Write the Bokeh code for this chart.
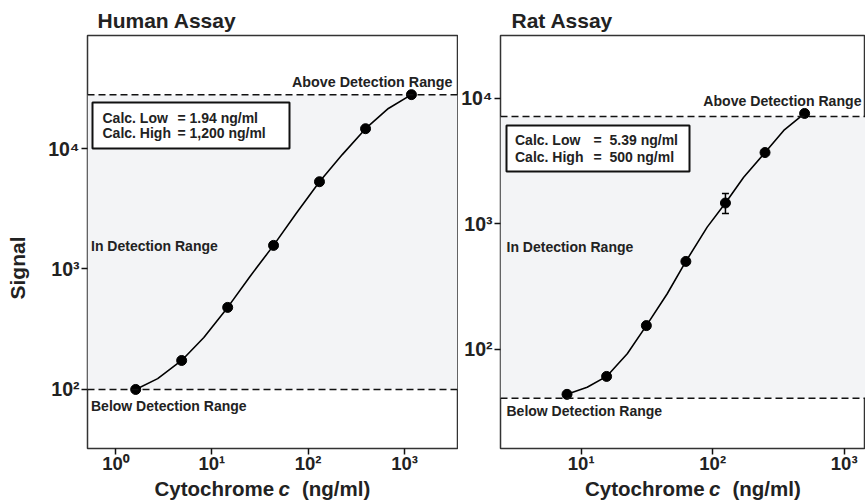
import math
from bokeh.plotting import figure
from bokeh.models import (Range1d, FixedTicker, Label, Span, BoxAnnotation, Whisker,
                          ColumnDataSource, TeeHead)
from bokeh.core.properties import value
from bokeh.layouts import row, column
from bokeh.embed import file_html
from bokeh.resources import INLINE

# ---------------- data ----------------
human_conc = [1.62, 4.86, 14.6, 43.7, 131, 394, 1180]
human_signal = [100, 174, 480, 1570, 5300, 14600, 28000]
human_fit_conc = [1.62, 2.74, 4.86, 8.26, 14.6, 24.9, 43.7, 75, 131, 226, 394, 680, 1180]
human_fit_signal = [100, 123, 174, 270, 480, 867, 1570, 2890, 5300, 8900, 14600, 21500, 28000]
human_low_limit = 100
human_high_limit = 28000

rat_conc = [7.8, 15.6, 31.3, 62.5, 125, 250, 500]
rat_signal = [43.9, 61, 155, 503, 1470, 3710, 7600]
rat_err_low = [43.9, 61, 155, 503, 1210, 3710, 7600]
rat_err_high = [43.9, 61, 155, 503, 1750, 3710, 7600]
rat_fit_conc = [7.8, 11.1, 15.6, 22.4, 31.3, 45.1, 62.5, 90.8, 125, 172, 250, 347, 500]
rat_fit_signal = [43.9, 50, 61, 92.4, 155, 278, 503, 944, 1470, 2360, 3710, 5560, 7600]
rat_low_limit = 40.8
rat_high_limit = 7200

human_x_ticks = [1, 10, 100, 1000]
rat_x_ticks = [10, 100, 1000]
y_ticks = [100, 1000, 10000]
tick_labels = {1: "10⁰", 10: "10¹", 100: "10²", 1000: "10³", 10000: "10⁴"}

FONT = "Liberation Sans"
TXT = "#222222"
BAND = "#f3f4f6"
TOP, MAIN_H, PAGE_H = 35, 476, 500
SVG_SHIFT = 0.33   # svg text sits ~0.33 em lower than its alphabetic anchor


def make_fig(title, title_offset, width, frame, page_left, xlog, ylog, xticks):
    fl, fr, ft, fb = frame
    p = figure(width=width, height=MAIN_H, x_axis_type="log", y_axis_type="log",
               x_range=Range1d(10 ** xlog[0], 10 ** xlog[1]),
               y_range=Range1d(10 ** ylog[0], 10 ** ylog[1]),
               output_backend="svg", toolbar_location=None,
               min_border_left=fl - page_left, min_border_right=page_left + width - fr,
               min_border_top=ft, min_border_bottom=MAIN_H - fb)
    p.title.text = title
    p.title.align = "left"
    p.title.offset = title_offset
    p.title.standoff = 8
    p.title.text_font = FONT
    p.title.text_font_size = "21px"
    p.title.text_font_style = "bold"
    p.title.text_color = TXT
    p.grid.visible = False
    p.outline_line_color = "#333333"
    p.outline_line_width = 1.5
    p.background_fill_color = "white"
    p.border_fill_color = "white"
    for ax, ticks, fs in ((p.xaxis[0], xticks, "18.5px"), (p.yaxis[0], y_ticks, "19.5px")):
        ax.ticker = FixedTicker(ticks=ticks, minor_ticks=[])
        ax.major_label_overrides = {t: tick_labels[t] for t in ticks}
        ax.axis_line_color = None
        ax.major_tick_line_color = "#111111"
        ax.major_tick_line_width = 1.5
        ax.major_tick_out = 6
        ax.major_tick_in = 0
        ax.minor_tick_line_color = None
        ax.major_label_text_font = FONT
        ax.major_label_text_font_style = "bold"
        ax.major_label_text_font_size = fs
        ax.major_label_text_color = TXT
    p.xaxis[0].major_label_standoff = -2
    p.yaxis[0].major_label_standoff = 2

    def to_data(px, py):
        x = 10 ** (xlog[0] + (px - fl) / (fr - fl) * (xlog[1] - xlog[0]))
        y = 10 ** (ylog[1] - (py - ft) / (fb - ft) * (ylog[1] - ylog[0]))
        return x, y

    def text(px, py, s, size=14.0, align="left"):
        x, y = to_data(px, py - SVG_SHIFT * size)
        p.add_layout(Label(x=x, y=y, text=s, text_font=FONT, text_font_size=f"{size}px",
                           text_font_style="bold", text_color=TXT, text_align=align,
                           text_baseline="alphabetic"))

    return p, to_data, text


def decorate(p, to_data, text, low, high, box, lines):
    p.add_layout(BoxAnnotation(bottom=low, top=high, fill_color=BAND, fill_alpha=1.0,
                               line_color=None, level="underlay"))
    for loc in (low, high):
        p.add_layout(Span(location=loc, dimension="width", line_color="#111111",
                          line_width=1.5, line_dash="7 4"))
    bl, bt, br, bb = box
    x0, y0 = to_data(bl, bb)
    x1, y1 = to_data(br, bt)
    p.add_layout(BoxAnnotation(left=x0, right=x1, bottom=y0, top=y1, fill_color="white",
                               fill_alpha=1.0, line_color="#111111", line_alpha=1.0,
                               line_width=2))
    for (px, py, s) in lines:
        text(px, py, s)


def strip(width, height):
    s = figure(width=width, height=height, x_range=Range1d(0, width),
               y_range=Range1d(0, height), output_backend="svg", toolbar_location=None,
               min_border=0, x_axis_location=None, y_axis_location=None, title=None)
    s.grid.visible = False
    s.outline_line_color = None
    s.background_fill_color = "white"
    s.border_fill_color = "white"
    return s


# ---------------- left strip: "Signal" ----------------
LEFT_W = 40
left_strip = strip(LEFT_W, MAIN_H)
left_strip.text(x=[24 - SVG_SHIFT * 21], y=[MAIN_H - 268], text=["Signal"], angle=math.pi / 2,
                text_font=value(FONT), text_font_size="21px", text_font_style="bold",
                text_color=TXT, text_align="center", text_baseline="alphabetic")

# ---------------- Human ----------------
h_frame = (87, 457, TOP, 448)
p1, h_to, h_text = make_fig("Human Assay", 10, 418, h_frame, LEFT_W,
                            (-0.2907, 3.550), (1.510, 4.938), human_x_ticks)
decorate(p1, h_to, h_text, human_low_limit, human_high_limit, (92, 102, 289, 148),
         [(102, 121.7, "Calc. Low"), (177, 121.7, "="), (189, 121.7, "1.94 ng/ml"),
          (102, 137.6, "Calc. High"), (177, 137.6, "="), (189, 137.6, "1,200 ng/ml")])
p1.line(human_fit_conc, human_fit_signal, line_color="black", line_width=1.6)
p1.scatter(human_conc, human_signal, size=10, color="black")
h_text(452, 86, "Above Detection Range", size=14.3, align="right")
h_text(90.5, 250, "In Detection Range")
h_text(90.5, 410, "Below Detection Range")

# ---------------- Rat ----------------
r_frame = (500, 865, TOP, 448)
p2, r_to, r_text = make_fig("Rat Assay", 11, 407, r_frame, 458,
                            (0.3863, 3.162), (1.211, 4.502), rat_x_ticks)
decorate(p2, r_to, r_text, rat_low_limit, rat_high_limit, (506, 125, 689, 171),
         [(514.5, 144.5, "Calc. Low"), (593, 144.5, "="), (609, 144.5, "5.39 ng/ml"),
          (514.5, 161.3, "Calc. High"), (593, 161.3, "="), (609, 161.3, "500 ng/ml")])
p2.line(rat_fit_conc, rat_fit_signal, line_color="black", line_width=1.6)
err_src = ColumnDataSource(dict(x=rat_conc, lo=rat_err_low, hi=rat_err_high))
p2.add_layout(Whisker(base="x", lower="lo", upper="hi", source=err_src, line_color="black",
                      line_width=1.5,
                      lower_head=TeeHead(size=7, line_color="black", line_width=1.5),
                      upper_head=TeeHead(size=7, line_color="black", line_width=1.5)))
p2.scatter(rat_conc, rat_signal, size=10, color="black")
r_text(861, 105, "Above Detection Range", size=14.1, align="right")
r_text(506, 251, "In Detection Range")
r_text(506, 415, "Below Detection Range")

# ---------------- bottom strip: x-axis titles ----------------
BOT_H = PAGE_H - MAIN_H
AX_FS = 20.5
bottom = strip(865, BOT_H)
base_y = PAGE_H - 495 + SVG_SHIFT * AX_FS
for x0 in (154, 584.5):
    bottom.text(x=[x0, x0 + 147.5], y=[base_y, base_y], text=["Cytochrome", "(ng/ml)"],
                text_font=value(FONT), text_font_size=f"{AX_FS}px", text_font_style="bold",
                text_color=TXT, text_align="left", text_baseline="alphabetic")
    bottom.text(x=[x0 + 124], y=[base_y], text=["c"],
                text_font=value(FONT), text_font_size=f"{AX_FS}px", text_font_style="bold italic",
                text_color=TXT, text_align="left", text_baseline="alphabetic")

layout = column(row(left_strip, p1, p2), bottom)
open("out.html", "w").write(file_html(layout, INLINE))
